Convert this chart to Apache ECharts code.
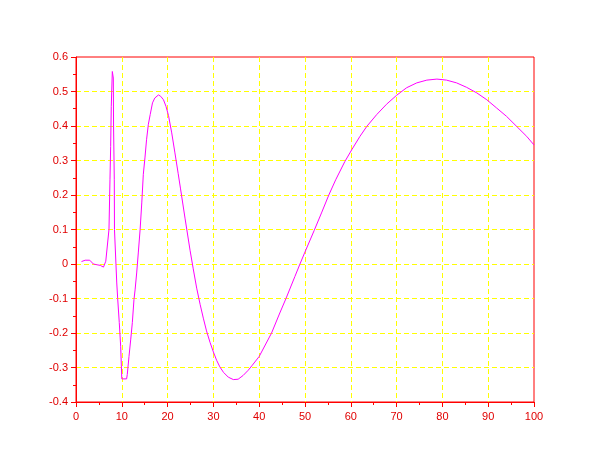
<!DOCTYPE html>
<html>
<head>
<meta charset="utf-8">
<script src="https://cdn.jsdelivr.net/npm/echarts@6/dist/echarts.min.js"></script>
<style>
html, body { margin: 0; padding: 0; background: #fff; }
#chart { width: 610px; height: 460px; }
</style>
</head>
<body>
<div id="chart"></div>
<script>
// curve samples
var xValues = [1.2, 2, 3, 3.8, 4.5, 5.3, 6.0, 6.5, 6.9, 7.2, 7.42, 7.57, 7.7, 7.93, 8.15, 8.2, 8.36, 8.4,
	8.9, 9.1, 9.45, 9.76, 10.0, 11.05, 11.2, 11.57, 11.94, 12.3, 12.66, 12.9, 13.25, 13.6, 14, 14.36,
	14.7, 15.07, 15.4, 15.8, 16.2, 16.7, 17.2, 18.0, 18.5, 19.1, 19.65, 20.2, 20.9, 21.6, 22.3, 22.8,
	23.8, 24.9, 25.6, 26.35, 27.1, 27.8, 28.5, 29.26, 30, 30.7, 31.4, 32.2, 33.25, 34.35, 35.4, 36.5,
	37.6, 38.4, 40, 42.7, 44.5, 45.85, 47.8, 48.9, 50, 52, 53.6, 55.2, 56.7, 58.7, 60.2, 62, 63.5,
	65.65, 67.8, 70, 72.2, 74.4, 76.6, 78.8, 80.9, 83.1, 85.3, 87.5, 89.7, 91.85, 94, 96.2, 98.4, 100];
var yValues = [0.007, 0.011, 0.011, 0.0, -0.002, -0.004, -0.009, 0.008, 0.013, 0.1, 0.244, 0.341, 0.457, 0.558, 0.539, 0.4, 0.244, 0.1,
	-0.055, -0.1, -0.17, -0.24, -0.333, -0.333, -0.32, -0.268, -0.22, -0.17, -0.103, -0.075, -0.026, 0.032, 0.1, 0.177,
	0.26, 0.31, 0.36, 0.405, 0.433, 0.467, 0.481, 0.49, 0.486, 0.476, 0.457, 0.43, 0.38, 0.322, 0.263, 0.22,
	0.133, 0.04, -0.014, -0.07, -0.117, -0.157, -0.194, -0.227, -0.255, -0.279, -0.298, -0.314, -0.328, -0.335, -0.334, -0.323,
	-0.308, -0.295, -0.268, -0.2, -0.142, -0.1, -0.036, 0, 0.035, 0.097, 0.148, 0.2, 0.244, 0.297, 0.331, 0.37, 0.399,
	0.433, 0.463, 0.489, 0.511, 0.525, 0.533, 0.536, 0.533, 0.525, 0.512, 0.496, 0.476, 0.452, 0.428, 0.399, 0.37, 0.345];

var xMin = 0, xMax = 100, xStep = 10;
var yMin = -0.4, yMax = 0.6, yStep = 0.1;

var points = xValues.map(function (x, i) { return [x, yValues[i]]; });

var red = '#ff0000';
var gridLine = {
	show: true,
	showMinLine: false,
	showMaxLine: false,
	lineStyle: { color: '#ffff00', type: [5, 3], width: 1 }
};

var chart = echarts.init(document.getElementById('chart'));
chart.setOption({
	animation: false,
	backgroundColor: '#fff',
	grid: {
		left: 76,
		right: 76,
		top: 57,
		bottom: 58,
		show: true,
		borderColor: red,
		borderWidth: 1
	},
	xAxis: {
		type: 'value',
		min: xMin,
		max: xMax,
		interval: xStep,
		axisLine: { show: true, onZero: false, lineStyle: { color: red, width: 1 } },
		axisTick: { show: true, length: 5, lineStyle: { color: red } },
		minorTick: { show: true, splitNumber: 2, length: 3, lineStyle: { color: red } },
		axisLabel: { color: '#e00000', fontSize: 11, fontFamily: 'Liberation Sans, Arial, sans-serif', margin: 9 },
		splitLine: gridLine
	},
	yAxis: {
		type: 'value',
		min: yMin,
		max: yMax,
		interval: yStep,
		axisLine: { show: true, onZero: false, lineStyle: { color: red, width: 1 } },
		axisTick: { show: true, length: 5, lineStyle: { color: red } },
		minorTick: { show: true, splitNumber: 2, length: 3, lineStyle: { color: red } },
		axisLabel: {
			color: '#e00000',
			fontSize: 11,
			fontFamily: 'Liberation Sans, Arial, sans-serif',
			margin: 8,
			formatter: function (v) { return String(Math.round(v * 10) / 10); }
		},
		splitLine: gridLine
	},
	series: [{
		type: 'line',
		data: points,
		showSymbol: false,
		lineStyle: { color: '#ff00ff', width: 1 },
		itemStyle: { color: '#ff00ff' }
	}]
});
</script>
</body>
</html>
